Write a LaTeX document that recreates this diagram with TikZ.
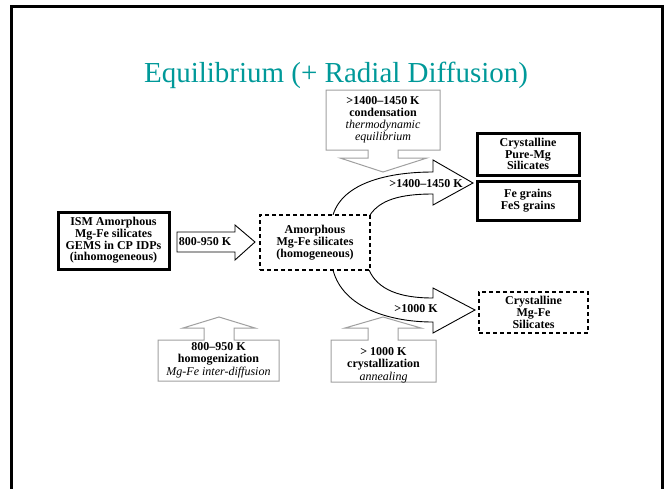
\documentclass[tikz,border=0pt]{standalone}
\usepackage{fontspec}
\setmainfont{Liberation Serif}
\definecolor{tealtitle}{RGB}{0,153,153}
\definecolor{callgray}{RGB}{160,160,160}
\begin{document}
\begin{tikzpicture}[x=1pt,y=-1pt,
  lbl/.style={font=\fontsize{12}{11.7}\selectfont\bfseries, align=center, inner sep=0pt},
  thickbox/.style={draw, line width=3pt, fill=white, inner sep=0pt, align=center,
     font=\fontsize{12}{11.7}\selectfont\bfseries},
  dashbox/.style={draw, line width=1.2pt, dash pattern=on 4pt off 3pt, fill=white, inner sep=0pt,
     align=center, font=\fontsize{12}{11.7}\selectfont\bfseries},
  blockarrow/.style={draw, line width=0.9pt, fill=white, line join=miter},
  callout/.style={draw=callgray, line width=1pt, fill=white, line join=miter}
]
\useasboundingbox (0,0) rectangle (667,488);
% frame
\draw[line width=3pt] (11,500) -- (11,6.5) -- (662,6.5) -- (662,500);
% title
\node[font=\fontsize{29}{29}\selectfont, text=tealtitle, anchor=base, inner sep=0pt] (title) at (336,82) {Equilibrium (+ Radial Diffusion)};

% curved arrows
\draw[blockarrow] (333,215) .. controls (343,182) and (390,172) .. (433,172) -- (433,160) -- (473,183) -- (433,205) -- (433,194) .. controls (400,194) and (380,200) .. (370,215);
\draw[blockarrow] (333,270) .. controls (343,308) and (390,322) .. (433,322) -- (433,333) -- (475,310) -- (433,288) -- (433,298) .. controls (400,298) and (378,290) .. (369,270);
\node[lbl] (t1400) at (426,184) {>1400–1450 K};
\node[lbl] (t1000) at (416,309) {>1000 K};

% left block arrow
\draw[blockarrow] (177,232) -- (235,232) -- (235,225) -- (255,242) -- (235,260) -- (235,252) -- (177,252) -- cycle;
\node[lbl] (t800) at (205,242) {800-950 K};

% boxes
\node[thickbox, minimum width=111pt, minimum height=57pt] (ism) at (113.5,240.5)
  {ISM Amorphous\\Mg-Fe silicates\\GEMS in CP IDPs\\(inhomogeneous)};
\node[dashbox, minimum width=110pt, minimum height=55pt] (amorph) at (315,242.5)
  {Amorphous\\Mg-Fe silicates\\(homogeneous)};
\node[thickbox, minimum width=102pt, minimum height=42pt] (puremg) at (528,154)
  {Crystalline\\Pure-Mg\\Silicates};
\node[thickbox, minimum width=102pt, minimum height=39pt] (fegrains) at (528,200.5)
  {Fe grains\\FeS grains};
\node[dashbox, minimum width=109pt, minimum height=41pt] (crystmgfe) at (533.5,312.5)
  {Crystalline\\Mg-Fe\\Silicates};

% top callout
\draw[callout] (326,90) -- (440,90) -- (440,150) -- (398,150) -- (398,158) -- (427,158) -- (383,172) -- (340,158) -- (368,158) -- (368,150) -- (326,150) -- cycle;
\node[align=center, inner sep=0pt, font=\fontsize{12}{12}\selectfont] (cond) at (383,119.5)
  {\textbf{>1400–1450 K}\\\textbf{condensation}\\\textit{thermodynamic}\\\textit{equilibrium}};

% bottom-left callout
\draw[callout] (158,340) -- (158,381) -- (279,381) -- (279,340) -- (234,340) -- (234,328) -- (255,328) -- (219,317) -- (183,328) -- (204,328) -- (204,340) -- cycle;
\node[align=center, inner sep=0pt, font=\fontsize{12}{12.5}\selectfont] (homog) at (218.5,360)
  {\textbf{800–950 K}\\\textbf{homogenization}\\\textit{Mg-Fe inter-diffusion}};

% bottom-middle callout
\draw[callout] (331,340) -- (331,382) -- (436,382) -- (436,340) -- (398,340) -- (398,328) -- (421,328) -- (383,317) -- (345,328) -- (368,328) -- (368,340) -- cycle;
\node[align=center, inner sep=0pt, font=\fontsize{12}{12.5}\selectfont] (cryst) at (383.5,365)
  {\textbf{> 1000 K}\\\textbf{crystallization}\\\textit{annealing}};
\end{tikzpicture}
\end{document}
